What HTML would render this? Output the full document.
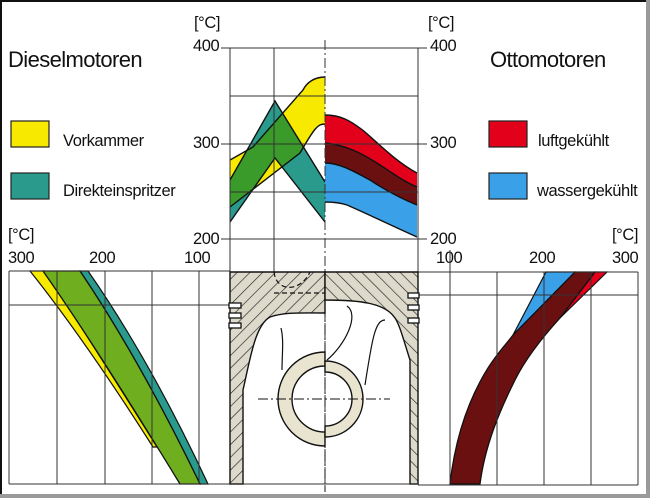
<!DOCTYPE html>
<html><head><meta charset="utf-8"><style>
html,body{margin:0;padding:0;background:#9a9a9a;}
svg{display:block;}
text{font-family:"Liberation Sans",sans-serif;fill:#111;}
</style></head><body>
<svg width="650" height="498" viewBox="0 0 650 498" xmlns="http://www.w3.org/2000/svg">
<defs>
<pattern id="hatch" width="9" height="9" patternUnits="userSpaceOnUse" patternTransform="rotate(45)">
<rect width="9" height="9" fill="#dedacb"/><line x1="0" y1="0" x2="0" y2="9" stroke="#222" stroke-width="1.3"/>
</pattern>
<pattern id="hatch2" width="9" height="9" patternUnits="userSpaceOnUse" patternTransform="rotate(-45)">
<rect width="9" height="9" fill="#dedacb"/><line x1="0" y1="0" x2="0" y2="9" stroke="#222" stroke-width="1.3"/>
</pattern>
<clipPath id="tealClip"><path d="M230,180 L275,101 L325,182 L325,222 L275,158 L230,222Z"/></clipPath>
<clipPath id="blueClip"><path d="M325,143 C345,145 360,152 380,165 C395,175 405,182 417,187 L417,237 C390,225 370,215 347,205 C338,202 330,202 325,202Z"/></clipPath>
</defs>
<rect x="0" y="0" width="646" height="494" fill="#fff"/>
<line x1="0" y1="1" x2="646" y2="1" stroke="#111" stroke-width="2"/>
<line x1="1" y1="0" x2="1" y2="494" stroke="#111" stroke-width="2"/>

<text x="8" y="67" font-size="22" letter-spacing="-0.6">Dieselmotoren</text>
<text x="490" y="67" font-size="22" letter-spacing="-0.6">Ottomotoren</text>
<rect x="11" y="121" width="38" height="26" fill="#f7ea00" stroke="#222" stroke-width="1.2"/>
<rect x="11" y="173" width="38" height="26" fill="#2a9a8c" stroke="#222" stroke-width="1.2"/>
<text x="63" y="146" font-size="16.5" letter-spacing="-0.4">Vorkammer</text>
<text x="63" y="196" font-size="16.5" letter-spacing="-0.4">Direkteinspritzer</text>
<rect x="489" y="121" width="38" height="26" fill="#e2001a" stroke="#222" stroke-width="1.2"/>
<rect x="489" y="173" width="38" height="26" fill="#3aa0e8" stroke="#222" stroke-width="1.2"/>
<text x="538" y="146" font-size="16.5" letter-spacing="-0.4">luftgekühlt</text>
<text x="537" y="196" font-size="16.5" letter-spacing="-0.4">wassergekühlt</text>

<g font-size="16.5" letter-spacing="-0.4">
<text x="194" y="28">[°C]</text>
<text x="193" y="51">400</text>
<text x="193" y="148">300</text>
<text x="193" y="244">200</text>
<text x="428" y="28">[°C]</text>
<text x="430" y="51">400</text>
<text x="430" y="148">300</text>
<text x="430" y="244">200</text>
<text x="8" y="240">[°C]</text>
<text x="8" y="263">300</text>
<text x="89" y="263">200</text>
<text x="184" y="263">100</text>
<text x="436" y="263">100</text>
<text x="529" y="263">200</text>
<text x="612" y="263">300</text>
<text x="612" y="240">[°C]</text>
</g>

<path d="M230,160 L253,147 L303,90 C307,82 315,77 325,77 L325,124 C318,124 315,127 300,153 L230,207Z" fill="#f7ea00"/>
<path d="M230,180 L275,101 L325,182 L325,222 L275,158 L230,222Z" fill="#2a9a8c"/>
<g clip-path="url(#tealClip)"><path d="M230,160 L253,147 L303,90 C307,82 315,77 325,77 L325,124 C318,124 315,127 300,153 L230,207Z" fill="#3a9a2a"/></g>
<g fill="none" stroke="#111" stroke-width="1.4">
<path d="M230,160 L253,147 L303,90 C307,82 315,77 325,77"/>
<path d="M230,207 L300,153 C315,127 318,124 325,124"/>
<path d="M230,180 L275,101 L325,182"/>
<path d="M230,222 L275,158 L325,222"/>
</g>
<path d="M325,115 C340,115 350,120 365,132 C385,150 400,164 417,173 L417,205 C400,198 385,190 370,180 C355,172 340,163 325,163Z" fill="#e2001a"/>
<path d="M325,143 C345,145 360,152 380,165 C395,175 405,182 417,187 L417,237 C390,225 370,215 347,205 C338,202 330,202 325,202Z" fill="#3aa0e8"/>
<g clip-path="url(#blueClip)"><path d="M325,115 C340,115 350,120 365,132 C385,150 400,164 417,173 L417,205 C400,198 385,190 370,180 C355,172 340,163 325,163Z" fill="#6a1010"/></g>
<g fill="none" stroke="#111" stroke-width="1.4">
<path d="M325,115 C340,115 350,120 365,132 C385,150 400,164 417,173"/>
<path d="M325,143 C345,145 360,152 380,165 C395,175 405,182 417,187"/>
<path d="M325,163 C340,163 355,172 370,180 C385,190 400,198 417,205"/>
<path d="M325,202 C330,202 338,202 347,205 C370,215 390,225 417,237"/>
</g>
<g stroke="#333" stroke-width="1" fill="none">
<line x1="221" y1="48" x2="418" y2="48"/>
<line x1="230" y1="96" x2="418" y2="96"/>
<line x1="221" y1="144" x2="427" y2="144"/>
<line x1="230" y1="192" x2="418" y2="192"/>
<line x1="221" y1="239" x2="427" y2="239"/>
<line x1="418" y1="48" x2="427" y2="48"/>
<line x1="230" y1="48" x2="230" y2="484"/>
<line x1="274" y1="48" x2="274" y2="272"/>
<line x1="418" y1="48" x2="418" y2="484"/>
<line x1="325" y1="40" x2="325" y2="492" stroke-dasharray="10,3,2,3"/>
</g>

<!-- Bottom left chart -->
<path d="M30,271 L45,271 Q90,340 157,447 L153,447 Q85,340 30,271Z" fill="#f7ea00" stroke="#111" stroke-width="1.2"/>
<path d="M80,271 L88,271 Q150,360 208,484 L200,484 Q140,360 80,271Z" fill="#2a9a8c" stroke="#111" stroke-width="1.2"/>
<path d="M43,271 L80,271 Q140,360 200,484 L180,484 Q95,345 43,271Z" fill="#6fae1e" stroke="#111" stroke-width="1.3"/>
<g stroke="#333" stroke-width="1">
<line x1="9" y1="271" x2="230" y2="271"/>
<line x1="9" y1="305" x2="230" y2="305"/>
<line x1="9" y1="484" x2="230" y2="484"/>
<line x1="9" y1="271" x2="9" y2="484"/>
<line x1="57" y1="271" x2="57" y2="484"/>
<line x1="105" y1="271" x2="105" y2="484"/>
<line x1="152" y1="271" x2="152" y2="484"/>
<line x1="199" y1="271" x2="199" y2="484"/>
</g>

<!-- Bottom right chart -->
<path d="M546,272 L575,272 L513,335 Z" fill="#3aa0e8" stroke="#111" stroke-width="1.2"/>
<path d="M595,272 L607,272 L560,318 Z" fill="#e2001a" stroke="#111" stroke-width="1.2"/>
<path d="M575,272 L595,272 L560,318 C540,340 525,360 515,380 C500,410 485,445 480,484 L450,484 C455,440 468,400 488,368 C498,352 508,342 513,335 Z" fill="#6a1010" stroke="#111" stroke-width="1.3"/>
<g stroke="#333" stroke-width="1">
<line x1="418" y1="272" x2="638" y2="272"/>
<line x1="418" y1="295" x2="638" y2="295"/>
<line x1="418" y1="485" x2="638" y2="485"/>
<line x1="450" y1="250" x2="450" y2="485"/>
<line x1="497" y1="272" x2="497" y2="485"/>
<line x1="544" y1="272" x2="544" y2="485"/>
<line x1="591" y1="272" x2="591" y2="485"/>
<line x1="638" y1="272" x2="638" y2="485"/>
</g>

<!-- Piston -->
<path d="M230,272 L325,272 L325,313 C300,313 285,312 270,317 C255,325 250,360 243,390 L243,484 L230,484Z" fill="url(#hatch)" stroke="#111" stroke-width="1.4"/>
<path d="M325,272 L418,272 L418,484 L410,484 L410,360 C405,345 400,325 395,318 C385,303 360,300 325,300Z" fill="url(#hatch2)" stroke="#111" stroke-width="1.4"/>
<g fill="#fff" stroke="#111" stroke-width="1.3">
<rect x="229" y="303" width="12" height="5"/><rect x="229" y="313" width="12" height="5"/><rect x="229" y="323" width="12" height="5"/>
<rect x="408" y="293" width="11" height="5"/><rect x="408" y="305" width="11" height="5"/><rect x="408" y="318" width="11" height="5"/>
</g>
<path d="M274,272 C276,292 300,293 310,272" fill="none" stroke="#111" stroke-width="1.2" stroke-dasharray="5,3"/>
<line x1="274" y1="293" x2="325" y2="293" stroke="#111" stroke-width="1.2" stroke-dasharray="5,3"/>
<path d="M325,352 A47,47 0 0 0 325,446 L325,432 A33,33 0 0 1 325,366Z" fill="#e8e4d0" stroke="#111" stroke-width="1.4"/>
<path d="M325,361 A38,38 0 0 1 325,437 L325,426 A27,27 0 0 0 325,372Z" fill="#e8e4d0" stroke="#111" stroke-width="1.4"/>
<g fill="none" stroke="#111" stroke-width="1.2">
<path d="M281,328 C284,340 282,355 282,370"/>
<path d="M347,306 C360,315 345,345 327,360"/>
<path d="M385,320 C375,320 372,340 365,385"/>
</g>
<line x1="258" y1="399" x2="390" y2="399" stroke="#111" stroke-width="1" stroke-dasharray="10,3,2,3"/>
<line x1="325" y1="271" x2="325" y2="492" stroke="#111" stroke-width="1" stroke-dasharray="10,3,2,3"/>
<line x1="230" y1="484" x2="418" y2="484" stroke="#333" stroke-width="1"/>
</svg>
</body></html>
